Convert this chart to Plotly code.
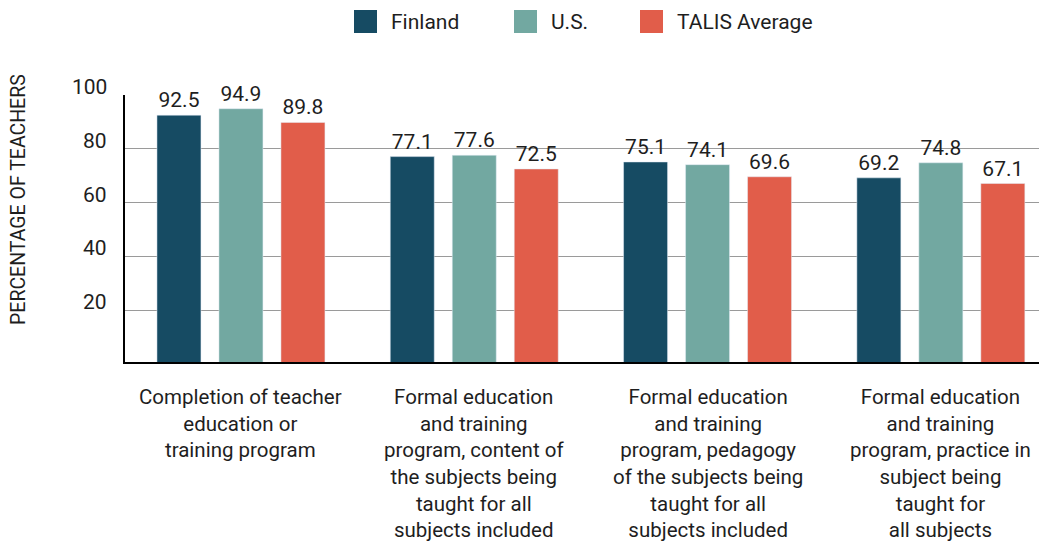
import plotly.graph_objects as go

categories = [
    "Completion of teacher<br>education or<br>training program",
    "Formal education<br>and training<br>program, content of<br>the subjects being<br>taught for all<br>subjects included",
    "Formal education<br>and training<br>program, pedagogy<br>of the subjects being<br>taught for all<br>subjects included",
    "Formal education<br>and training<br>program, practice in<br>subject being<br>taught for<br>all subjects",
]
series_names = ["Finland", "U.S.", "TALIS Average"]
finland = [92.5, 77.1, 75.1, 69.2]
us = [94.9, 77.6, 74.1, 74.8]
talis = [89.8, 72.5, 69.6, 67.1]
y_ticks = [20, 40, 60, 80, 100]
colors = ["#164b63", "#72a8a1", "#e15d4a"]

FONT = "Roboto"
TXT = "#1e1e1e"
# page has an 8px body margin; work in reference pixel coords and subtract it
OFF = 8
W = 1047 - OFF
H = 546 - OFF
ml, mr, mt, mb = 125 - OFF, 0, 95 - OFF, 546 - 364
pw = W - ml - mr
ph = H - mt - mb


def px_x(px):
    return (px - OFF - ml) / pw


def px_y(py):
    return (H - mb - (py - OFF)) / ph


x_pos = list(range(len(categories)))
bar_w = 0.1886
step = 0.2657
offsets = [-step - bar_w / 2, -bar_w / 2, step - bar_w / 2]

fig = go.Figure()
for name, vals, col, off in zip(series_names, [finland, us, talis], colors, offsets):
    fig.add_trace(go.Bar(
        x=x_pos, y=vals, name=name, marker_color=col, width=bar_w, offset=off,
        text=[f"{v:.1f}" for v in vals], textposition="outside",
        textfont=dict(size=21, color=TXT, family=FONT),
        cliponaxis=False, showlegend=False,
    ))

annotations = []
shapes = []
# y tick labels (sit slightly above the gridlines)
for t in y_ticks:
    annotations.append(dict(x=px_x(109), xref="paper", y=t, yref="y", text=str(t),
                            showarrow=False, xanchor="right", yanchor="middle",
                            yshift=8, font=dict(size=21, color=TXT, family=FONT)))
# category labels
for i, c in enumerate(categories):
    annotations.append(dict(x=i, xref="x", y=0, yref="y", text=c, showarrow=False,
                            xanchor="center", yanchor="top", yshift=-19,
                            font=dict(size=20.5, color=TXT, family=FONT)))
# axis title
annotations.append(dict(x=px_x(18), xref="paper", y=px_y(200), yref="paper",
                        xanchor="center", yanchor="middle",
                        text="PERCENTAGE OF TEACHERS", textangle=-90, showarrow=False,
                        font=dict(size=19.5, color=TXT, family=FONT)))

# legend (swatches + text)
leg_x = [354, 514, 640]
for name, col, lx in zip(series_names, colors, leg_x):
    shapes.append(dict(type="rect", xref="paper", yref="paper",
                       x0=px_x(lx), x1=px_x(lx + 23),
                       y0=px_y(33), y1=px_y(10),
                       fillcolor=col, line=dict(width=0)))
    annotations.append(dict(x=px_x(lx + 35), xref="paper", y=px_y(22), yref="paper",
                            text=name, showarrow=False, xanchor="left", yanchor="middle",
                            font=dict(size=21, color=TXT, family=FONT)))

# bottom thick axis line
shapes.append(dict(type="line", xref="paper", yref="y", x0=0, x1=1, y0=0, y1=0,
                   line=dict(color="black", width=4)))

fig.update_layout(
    width=W, height=H,
    margin=dict(l=ml, r=mr, t=mt, b=mb),
    plot_bgcolor="white", paper_bgcolor="white",
    barmode="overlay",
    showlegend=False,
    font=dict(family=FONT, color=TXT),
    xaxis=dict(range=[-0.497, 3.455], showticklabels=False, showgrid=False,
               zeroline=False, showline=False, ticks=""),
    yaxis=dict(range=[0, 100], tickvals=y_ticks, showticklabels=False,
               showgrid=True, gridcolor="#9a9a9a", gridwidth=1,
               zeroline=False, showline=True, linecolor="black", linewidth=1.5,
               ticks=""),
    annotations=annotations,
    shapes=shapes,
)

fig.write_html("out.html")
